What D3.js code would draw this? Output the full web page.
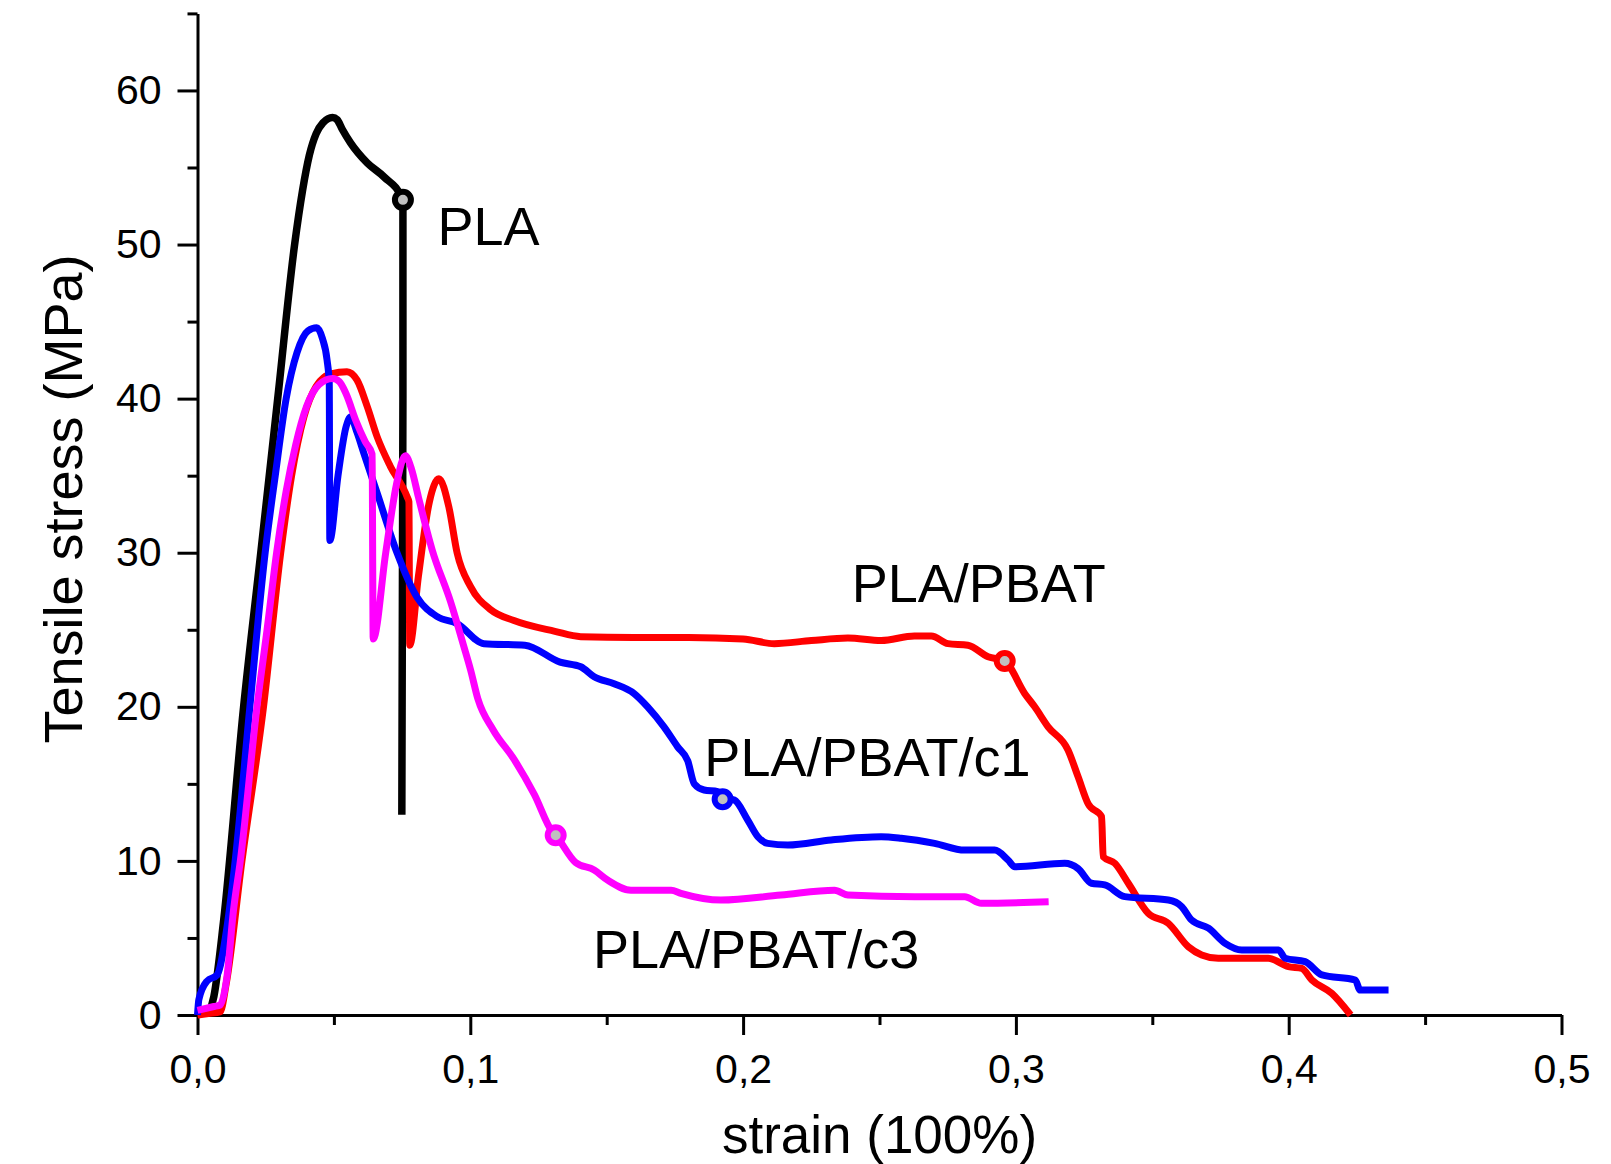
<!DOCTYPE html>
<html>
<head>
<meta charset="utf-8">
<script src="https://cdn.jsdelivr.net/npm/d3@7"></script>
<style>
  html, body { margin: 0; padding: 0; background: #fff; }
  svg { display: block; font-family: "Liberation Sans", Arial, sans-serif; }
  .axis path, .axis line { stroke: #000; stroke-width: 3; }
  .axis text { font-size: 41px; fill: #000; }
</style>
</head>
<body>
<svg id="chart"></svg>
<script>
// strain (fraction) vs tensile stress (MPa)
const pla = [
  [0.004, 0], [0.006, 1.2], [0.0095, 6], [0.0169, 20], [0.0232, 30], [0.0294, 40],
  [0.0356, 50], [0.0385, 53.5], [0.041, 55.8], [0.0435, 57.2], [0.046, 57.9],
  [0.0495, 58.25], [0.0512, 58.1], [0.053, 57.5], [0.0561, 56.6], [0.0622, 55.3],
  [0.0683, 54.4], [0.0753, 52.9], [0.0753, 40], [0.0749, 13]
];
const plaPbat = [
  [0, 0], [0.004, 0.1], [0.0083, 0.2], [0.0105, 2], [0.0163, 10], [0.0242, 20],
  [0.0305, 30], [0.0345, 35], [0.039, 38.8], [0.0435, 40.8], [0.049, 41.6],
  [0.0548, 41.75], [0.0585, 41.2], [0.0622, 39.5], [0.0659, 37.5], [0.0707, 35.6],
  [0.0769, 33.6], [0.0775, 33.3], [0.0778, 24], [0.081, 28.5], [0.085, 33.3],
  [0.0885, 34.8], [0.0921, 33], [0.0952, 29.96], [0.1001, 27.8], [0.1075, 26.3],
  [0.116, 25.6], [0.131, 24.9], [0.1405, 24.55], [0.16, 24.5], [0.18, 24.5],
  [0.2, 24.4], [0.2114, 24.1], [0.225, 24.3], [0.2384, 24.46], [0.2506, 24.3],
  [0.2628, 24.6], [0.269, 24.6], [0.2751, 24.1], [0.2824, 24.0], [0.2898, 23.25],
  [0.2959, 22.97], [0.3032, 20.87], [0.3069, 20.0], [0.3118, 18.7], [0.3191, 17.2],
  [0.3228, 15.46], [0.3265, 13.7], [0.3314, 12.87], [0.332, 10.27], [0.3363, 9.84],
  [0.3412, 8.55], [0.3485, 6.6], [0.3559, 5.95], [0.3632, 4.43], [0.3681, 3.9],
  [0.3742, 3.68], [0.3925, 3.68], [0.3999, 3.14], [0.4048, 3.03], [0.4085, 2.27],
  [0.4158, 1.4], [0.4227, 0]
];
const plaPbatC1 = [
  [0, 0], [0.0005, 1], [0.0035, 2.2], [0.0072, 2.6], [0.0108, 5.7], [0.0138, 10],
  [0.0192, 20], [0.0248, 30], [0.0285, 35], [0.0325, 40], [0.0365, 43], [0.0405, 44.4],
  [0.0437, 44.6], [0.0458, 43.9], [0.0475, 42.5], [0.0483, 41],
  [0.0485, 30.8], [0.0515, 35], [0.0545, 38.2], [0.0561, 38.8], [0.0585, 37.8],
  [0.0609, 36.5], [0.0659, 33.85], [0.0732, 29.96], [0.0805, 27.1], [0.0879, 25.85],
  [0.0952, 25.4], [0.105, 24.1], [0.12, 24.0], [0.1329, 22.9], [0.1405, 22.6],
  [0.1454, 21.95], [0.1527, 21.5], [0.16, 20.87], [0.165, 20], [0.171, 18.7],
  [0.176, 17.4], [0.1797, 16.5], [0.1821, 15], [0.1857, 14.6], [0.1907, 14.5],
  [0.1925, 14.1], [0.1968, 13.95], [0.2017, 12.65], [0.2054, 11.57], [0.209, 11.14],
  [0.2164, 11.03], [0.2323, 11.36], [0.2506, 11.57], [0.258, 11.47], [0.2702, 11.14],
  [0.2812, 10.7], [0.2922, 10.7], [0.2971, 10.06], [0.2996, 9.62], [0.3179, 9.84],
  [0.3228, 9.5], [0.3277, 8.55], [0.3326, 8.44], [0.3399, 7.68], [0.3559, 7.46],
  [0.3608, 7.03], [0.3644, 6.16], [0.3706, 5.63], [0.3767, 4.65], [0.3828, 4.22],
  [0.3963, 4.22], [0.3987, 3.68], [0.406, 3.46], [0.4122, 2.6], [0.4244, 2.27],
  [0.4262, 1.62], [0.4366, 1.62]
];
const plaPbatC3 = [
  [0, 0.3], [0.006, 0.55], [0.0083, 0.65], [0.0108, 2.5], [0.0132, 6.8], [0.0157, 10],
  [0.0218, 20], [0.0255, 25], [0.029, 30], [0.0325, 34], [0.036, 37], [0.04, 39.5],
  [0.0445, 40.9], [0.0495, 41.3], [0.052, 41.1], [0.0545, 40.3], [0.058, 38.6],
  [0.0615, 37.2], [0.064, 36.4], [0.0644, 24.4], [0.069, 30], [0.073, 34.5],
  [0.0762, 36.3], [0.0785, 35.4], [0.081, 33.6], [0.086, 30.2], [0.0928, 26.8],
  [0.0975, 24], [0.1001, 22.4], [0.1028, 20.5], [0.1084, 18.5], [0.116, 16.6],
  [0.1235, 14.3], [0.13, 11.9], [0.1313, 11.66], [0.1386, 9.9], [0.1454, 9.41],
  [0.1503, 8.76], [0.1589, 8.1], [0.1736, 8.1], [0.1772, 7.9], [0.1919, 7.46],
  [0.2139, 7.79], [0.2335, 8.1], [0.2384, 7.79], [0.2629, 7.68], [0.2812, 7.68],
  [0.2873, 7.25], [0.312, 7.35]
];

// specimen break points (open circle markers)
const breakPoints = [[0.0753, 52.9], [0.2959, 22.97], [0.1925, 14.0], [0.1313, 11.66]];

const seriesNames  = ['PLA', 'PLA/PBAT', 'PLA/PBAT/c1', 'PLA/PBAT/c3'];
const seriesColors = ['#000000', '#ff0000', '#0000ff', '#ff00ff'];
const seriesData   = [pla, plaPbat, plaPbatC1, plaPbatC3];

// curve labels, anchored at (strain, stress) of the text baseline start
const labelAnchors = [[0.088, 49.97], [0.2398, 26.83], [0.1858, 15.51], [0.145, 3.05]];

const xMajor = [0, 0.1, 0.2, 0.3, 0.4, 0.5];
const xMinor = [0.05, 0.15, 0.25, 0.35, 0.45];
const yMajor = [0, 10, 20, 30, 40, 50, 60];
const yMinor = [5, 15, 25, 35, 45, 55, 65];

const W = 1611, H = 1164;
const svg = d3.select('#chart').attr('width', W).attr('height', H).attr('viewBox', `0 0 ${W} ${H}`);

const x = d3.scaleLinear().domain([0, 0.5]).range([197.5, 1561.5]);
const y = d3.scaleLinear().domain([0, 65]).range([1015, 13.4]);

const commaFmt = d => d.toFixed(1).replace('.', ',');

// axes: major ticks with labels, minor ticks without
svg.append('g').attr('class', 'axis').attr('transform', `translate(0,${y(0)})`)
  .call(d3.axisBottom(x).tickValues(xMajor).tickSize(20).tickSizeOuter(0)
    .tickPadding(19).tickFormat(commaFmt));
svg.append('g').attr('class', 'axis').attr('transform', `translate(0,${y(0)})`)
  .call(d3.axisBottom(x).tickValues(xMinor).tickSize(10).tickFormat(''))
  .call(g => g.select('.domain').remove());

svg.append('g').attr('class', 'axis').attr('transform', `translate(${x(0)},0)`)
  .call(d3.axisLeft(y).tickValues(yMajor).tickSize(20).tickSizeOuter(0)
    .tickPadding(16).tickFormat(d3.format('d')));
svg.append('g').attr('class', 'axis').attr('transform', `translate(${x(0)},0)`)
  .call(d3.axisLeft(y).tickValues(yMinor).tickSize(10).tickFormat(''))
  .call(g => g.select('.domain').remove());

// axis titles
svg.append('text')
  .attr('x', (x(0) + x(0.5)) / 2).attr('y', 1153)
  .attr('text-anchor', 'middle').attr('font-size', 53)
  .text('strain (100%)');
svg.append('text')
  .attr('transform', 'translate(82,499) rotate(-90)')
  .attr('text-anchor', 'middle').attr('font-size', 54)
  .text('Tensile stress (MPa)');

// curves
const line = d3.line()
  .x(d => x(d[0])).y(d => y(d[1]))
  .curve(d3.curveMonotoneX);

const curves = svg.append('g');
seriesData.forEach((data, i) => {
  curves.append('path')
    .datum(data)
    .attr('d', line)
    .attr('fill', 'none')
    .attr('stroke', seriesColors[i])
    .attr('stroke-width', i === 0 ? 7.5 : 7)
    .attr('stroke-linejoin', 'round')
    .attr('stroke-linecap', 'butt');
});

svg.append('g').selectAll('circle')
  .data(breakPoints)
  .join('circle')
  .attr('cx', d => x(d[0])).attr('cy', d => y(d[1]))
  .attr('r', 8)
  .attr('fill', '#c0c0c0')
  .attr('stroke', (d, i) => seriesColors[i])
  .attr('stroke-width', 6);

svg.append('g').selectAll('text')
  .data(labelAnchors)
  .join('text')
  .attr('x', d => x(d[0])).attr('y', d => y(d[1]))
  .attr('font-size', 54)
  .text((d, i) => seriesNames[i]);
</script>
</body>
</html>
